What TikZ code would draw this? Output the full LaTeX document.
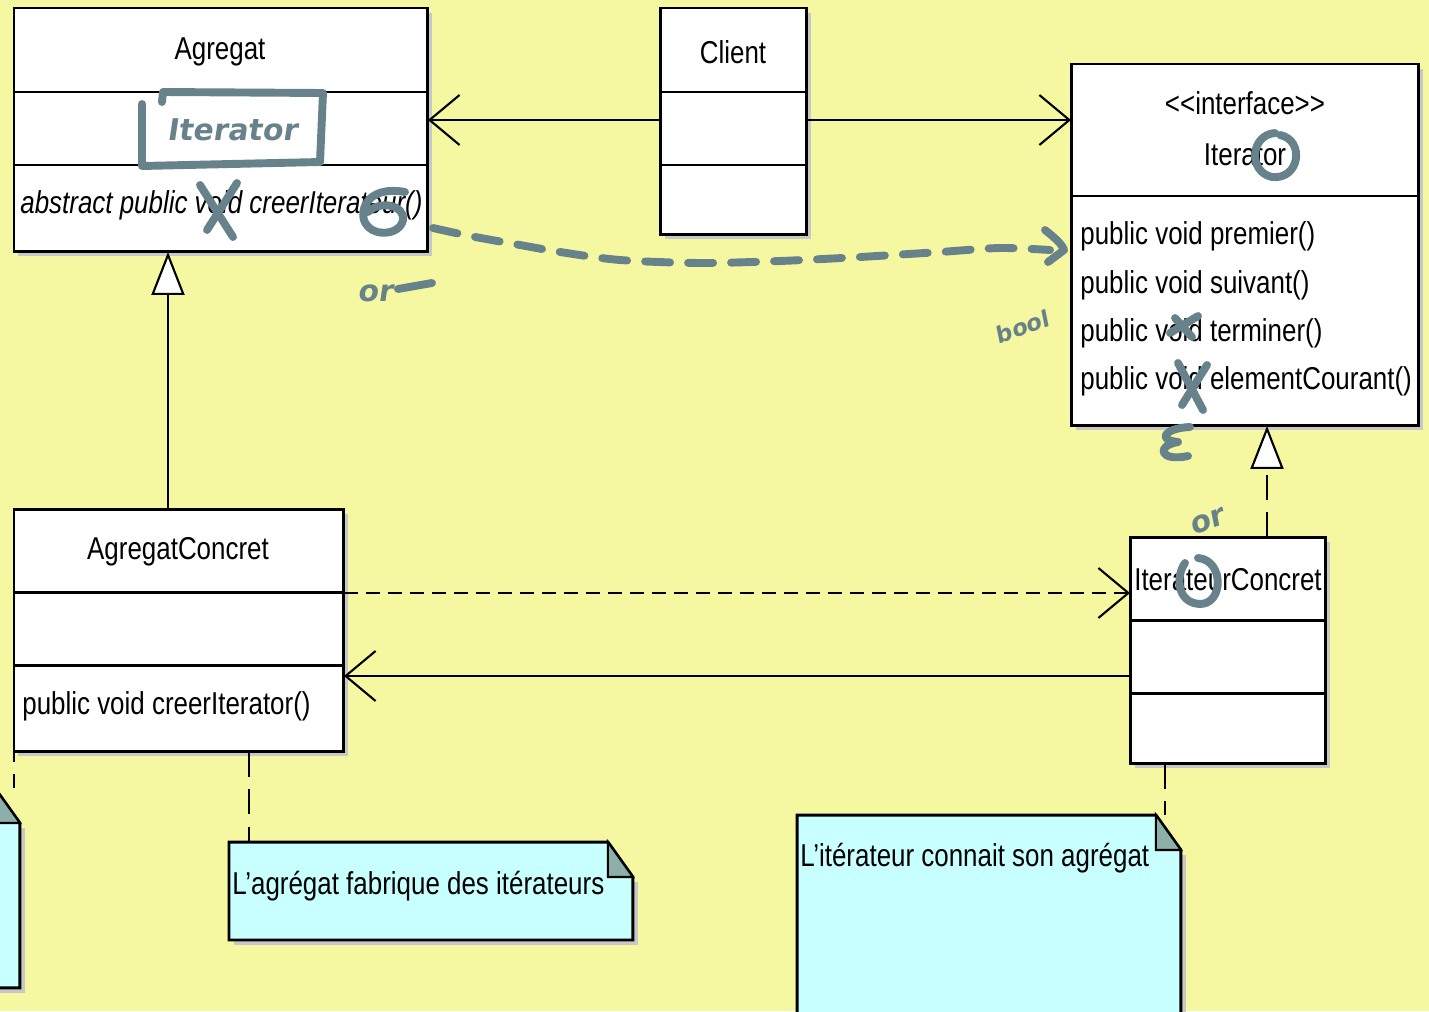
\documentclass[tikz,border=0pt]{standalone}
\usepackage{fontspec}
\setmainfont{Liberation Sans}[FakeStretch=0.82]
\newfontfamily\penfont{DejaVu Sans}[FakeSlant=0.15]
\usepackage{xcolor}
\usetikzlibrary{arrows.meta,calc,shadows}

\definecolor{bgyellow}{RGB}{245,248,160}
\definecolor{notecyan}{RGB}{200,255,255}
\definecolor{foldgray}{RGB}{140,175,170}
\definecolor{shadowgray}{RGB}{200,200,200}
\definecolor{penblue}{RGB}{104,130,140}

\begin{document}
\begin{tikzpicture}[x=0.02cm,y=-0.02cm,
  classbox/.style={draw, fill=white, line width=1.7pt, anchor=north west,
    inner sep=0pt, outer sep=0pt,
    drop shadow={shadow xshift=0.09cm, shadow yshift=-0.09cm, fill=shadowgray, opacity=1}},
  umltext/.style={font=\fontsize{18}{20}\selectfont, inner sep=0pt},
  divider/.style={line width=1.7pt},
  notebox/.style={anchor=north west, inner sep=0pt, outer sep=0pt},
  notebody/.style={draw, fill=notecyan, line width=1.7pt},
  notefold/.style={draw, fill=foldgray, line width=1.2pt},
  assoc/.style={line width=1.4pt, -{Straight Barb[length=0.6cm,width=1cm,line width=1.2pt]}},
  depend/.style={assoc, dash pattern=on 0.28cm off 0.16cm},
  inherit/.style={line width=1.4pt, -{Triangle[length=0.86cm,width=0.66cm,fill=white,line width=1.2pt]}},
  realize/.style={inherit, dash pattern=on 0.5cm off 0.25cm},
  noteline/.style={line width=1.2pt, dash pattern=on 0.5cm off 0.25cm},
  pen/.style={draw=penblue, line width=4.5pt, line cap=round, line join=round},
  pentext/.style={text=penblue, inner sep=0pt, font=\penfont\bfseries\fontsize{17}{17}\selectfont}]

  % sheet
  \useasboundingbox (0,0) rectangle (1429,1011);
  \clip (0,0) rectangle (1429,1011);
  \fill[bgyellow] (0,0) rectangle (1429,1011);

  % Agregat
  \node[classbox, minimum width=8.28cm, minimum height=4.88cm] (agregat) at (14,8) {};
  \foreach \yy in {92,165}
    \draw[divider] (agregat.west |- 0,\yy) -- (agregat.east |- 0,\yy);
  \node[umltext] (agregatname) at (220,52) {Agregat};
  \node[umltext, anchor=west, font=\fontsize{18}{20}\selectfont\itshape] (agregatop) at (20,205) {abstract public void creerIterateur()};

  % Client
  \node[classbox, minimum width=2.94cm, minimum height=4.54cm] (client) at (660,8) {};
  \foreach \yy in {92,165}
    \draw[divider] (client.west |- 0,\yy) -- (client.east |- 0,\yy);
  \node[umltext] (clientname) at (733,52) {Client};

  % Iterator (interface)
  \node[classbox, minimum width=6.96cm, minimum height=7.24cm] (iterator) at (1071,64) {};
  \draw[divider] (iterator.west |- 0,196) -- (iterator.east |- 0,196);
  \node[umltext] (stereo) at (1245,103) {<{}<interface>{}>};
  \node[umltext] (iteratorname) at (1245,155) {Iterator};
  \foreach \m/\yy [count=\i] in {premier/236,suivant/285,terminer/333,elementCourant/381}
    \node[umltext, anchor=west] (itop\i) at (1080,\yy) {public void \m()};

  % AgregatConcret
  \node[classbox, minimum width=6.6cm, minimum height=4.86cm] (agregatconcret) at (14,509) {};
  \foreach \yy in {592,665}
    \draw[divider] (agregatconcret.west |- 0,\yy) -- (agregatconcret.east |- 0,\yy);
  \node[umltext] (acname) at (178,552) {AgregatConcret};
  \node[umltext, anchor=west] (acop) at (22,706) {public void creerIterator()};

  % IterateurConcret
  \node[classbox, minimum width=3.92cm, minimum height=4.54cm] (iterateurconcret) at (1130,537) {};
  \foreach \yy in {620,693}
    \draw[divider] (iterateurconcret.west |- 0,\yy) -- (iterateurconcret.east |- 0,\yy);
  \node[umltext] (icname) at (1228,580) {IterateurConcret};

  % notes
  \node[notebox, minimum width=8.08cm, minimum height=1.96cm] (note1) at (229,842) {};
  \node[notebox, minimum width=7.68cm, minimum height=4.4cm] (note2) at (797,815) {};
  \node[notebox, minimum width=8cm, minimum height=4cm] (note3) at (-380,788) {};
  \foreach \n in {note1,note2,note3} {
    \fill[shadowgray] ($(\n.north east)+(0,40)$) rectangle ($(\n.south east)+(5,5)$);
    \fill[shadowgray] ($(\n.south west)+(5,0)$) rectangle ($(\n.south east)+(5,5)$);
    \draw[notebody] (\n.north west) -- ($(\n.north east)+(-25,0)$) -- ($(\n.north east)+(0,35)$)
      -- (\n.south east) -- (\n.south west) -- cycle;
    \draw[notefold] ($(\n.north east)+(-25,0)$) -- ($(\n.north east)+(-25,35)$)
      -- ($(\n.north east)+(0,35)$) -- cycle;
  }
  \node[umltext, anchor=west] (note1text) at (232,886) {L'agrégat fabrique des itérateurs};
  \node[umltext, anchor=west] (note2text) at (800,858) {L'itérateur connait son agrégat};

  % relations
  \draw[assoc] (client.west |- 0,120) -- (agregat.east |- 0,120);
  \draw[assoc] (client.east |- 0,120) -- (iterator.west |- 0,120);
  \draw[inherit] (agregatconcret.north -| 168,0) -- (agregat.south -| 168,0);
  \draw[realize] (iterateurconcret.north -| 1267,0) -- (iterator.south -| 1267,0);
  \draw[depend] (agregatconcret.east |- 0,593) -- (iterateurconcret.west |- 0,593);
  \draw[assoc] (iterateurconcret.west |- 0,676) -- (agregatconcret.east |- 0,676);
  \draw[noteline] (agregatconcret.south -| 249,0) -- (note1.north -| 249,0);
  \draw[noteline] (iterateurconcret.south -| 1165,0) -- (note2.north -| 1165,0);
  \draw[noteline, dash phase=0.3cm] (agregatconcret.south west) -- (note3.north -| 14,0);

  % hand annotations
  \draw[pen] (162,102) -- (163,92) -- (323,93) -- (320,162) -- (142,166) -- (142,104);
  \node[pentext] (scribble) at (232,130) {Iterator};
  \draw[pen] (200,185) -- (233,237) (237,183) -- (207,230);
  \draw[pen] (405,192) .. controls (372,186) and (360,205) .. (364,220)
    .. controls (370,238) and (400,236) .. (403,220) .. controls (405,205) and (380,200) .. (368,212);
  \node[pentext] (or1) at (375,293) {or};
  \draw[pen] (398,289) -- (432,283);
  \draw[pen, dash pattern=on 0.5cm off 0.36cm] plot[smooth] coordinates
    {(433,228) (470,236) (520,245) (560,252) (620,260) (700,263) (780,261) (860,257) (940,252) (1000,248) (1050,250)};
  \draw[pen] (1045,230) .. controls (1055,238) and (1062,244) .. (1064,250) -- (1048,262);
  \draw[pen] (1275,133) .. controls (1250,135) and (1248,172) .. (1272,177)
    .. controls (1300,180) and (1305,140) .. (1280,135);
  \node[pentext, rotate=20, font=\penfont\bfseries\fontsize{13}{13}\selectfont] (bool) at (1022,327) {bool};
  \draw[pen] (1170,333) -- (1198,316) (1175,318) -- (1192,337);
  \draw[pen] (1178,363) -- (1203,410) (1207,365) -- (1182,405);
  \draw[pen] (1190,427) .. controls (1165,428) and (1156,440) .. (1178,442)
    .. controls (1155,446) and (1160,462) .. (1188,456);
  \node[pentext, rotate=20] (or2) at (1207,522) {or};
  \draw[pen] (1185,563) .. controls (1176,575) and (1176,603) .. (1200,604)
    .. controls (1224,604) and (1224,560) .. (1198,558);
\end{tikzpicture}
\end{document}
